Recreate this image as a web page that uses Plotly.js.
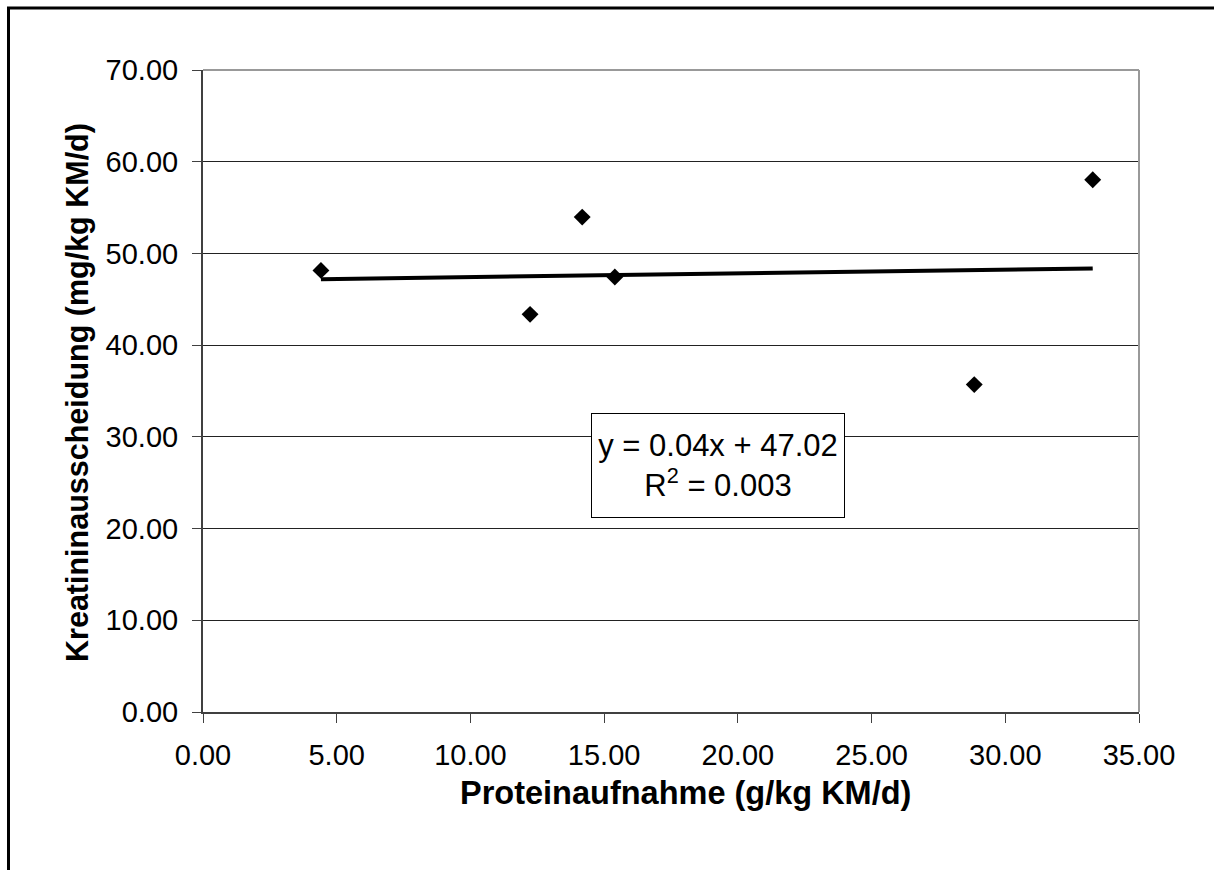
<!DOCTYPE html>
<html>
<head>
<meta charset="utf-8">
<script src="https://cdn.plot.ly/plotly-3.0.1.min.js"></script>
<style>
html,body{margin:0;padding:0;background:#fff;}
#chart{width:1214px;height:870px;}
</style>
</head>
<body>
<div id="chart"></div>
<script>
// Data
const proteinIntake = [4.41, 12.23, 14.18, 15.40, 28.84, 33.27];      // g/kg KM/d
const creatinineExcretion = [48.15, 43.36, 53.96, 47.43, 35.70, 58.03]; // mg/kg KM/d
const trendSlope = 0.04;
const trendIntercept = 47.02;
const rSquared = 0.003;
const xTickVals = [0, 5, 10, 15, 20, 25, 30, 35];
const yTickVals = [0, 10, 20, 30, 40, 50, 60, 70];
const xTitle = 'Proteinaufnahme (g/kg KM/d)';
const yTitle = 'Kreatininausscheidung (mg/kg KM/d)';

const xMin = Math.min(...proteinIntake);
const xMax = Math.max(...proteinIntake);
const trendX = [xMin, xMax];
const trendY = trendX.map(v => trendSlope * v + trendIntercept);

const FONT = 'Liberation Sans, Arial, sans-serif';

const traces = [
  {
    x: trendX, y: trendY, mode: 'lines', type: 'scatter',
    line: {color: '#000000', width: 4},
    hoverinfo: 'skip', showlegend: false
  },
  {
    x: proteinIntake, y: creatinineExcretion, mode: 'markers', type: 'scatter',
    marker: {symbol: 'diamond', size: 13, color: '#000000'},
    showlegend: false
  }
];

const layout = {
  width: 1214, height: 870,
  margin: {l: 203, r: 75, t: 70, b: 158, pad: 0},
  paper_bgcolor: '#ffffff', plot_bgcolor: '#ffffff',
  font: {family: FONT, color: '#000000', size: 29},
  showlegend: false,
  xaxis: {
    range: [0, 35], tickvals: xTickVals,
    ticktext: xTickVals.map(v => v.toFixed(2)),
    ticks: 'outside', ticklen: 9, tickwidth: 1, tickcolor: '#404040',
    showline: true, linecolor: '#404040', linewidth: 2,
    showgrid: false, zeroline: false,
    tickfont: {family: FONT, size: 29, color: '#000'},
    ticklabelstandoff: 7,
    fixedrange: true
  },
  yaxis: {
    range: [0, 70], tickvals: yTickVals,
    ticktext: yTickVals.map(v => v.toFixed(2)),
    ticks: 'outside', ticklen: 9, tickwidth: 1, tickcolor: '#404040',
    showline: true, linecolor: '#404040', linewidth: 2,
    showgrid: true, gridcolor: '#222222', gridwidth: 1, zeroline: false,
    tickfont: {family: FONT, size: 29, color: '#000'},
    ticklabelstandoff: 8,
    fixedrange: true
  },
  shapes: [
    // plot area border top & right (grey)
    {type: 'line', xref: 'paper', yref: 'paper', x0: 0, x1: 1, y0: 1, y1: 1, line: {color: '#999999', width: 2}},
    {type: 'line', xref: 'paper', yref: 'paper', x0: 1, x1: 1, y0: 0, y1: 1, line: {color: '#999999', width: 2}},
    // outer chart border (cut by page edges)
    {type: 'rect', xref: 'paper', yref: 'paper', x0: -0.2078, x1: 1.15, y0: -0.3, y1: 1.0965, line: {color: '#000000', width: 3}}
  ],
  annotations: [
    {
      xref: 'x', yref: 'y', x: 19.26, y: 26.85,
      text: 'y = ' + trendSlope.toFixed(2) + 'x + ' + trendIntercept.toFixed(2) + '<br>R<sup>2</sup> = ' + rSquared.toFixed(3),
      showarrow: false, align: 'center',
      font: {family: FONT, size: 31, color: '#000'},
      bgcolor: '#ffffff', bordercolor: '#000000', borderwidth: 1,
      width: 250, height: 101
    },
    {
      xref: 'paper', yref: 'paper', x: 0.515, y: -0.126,
      xanchor: 'center', yanchor: 'middle',
      text: '<b>' + xTitle + '</b>', showarrow: false,
      font: {family: FONT, size: 32.5, color: '#000'}
    },
    {
      xref: 'paper', yref: 'paper', x: -0.1335, y: 0.497,
      xanchor: 'center', yanchor: 'middle', textangle: -90,
      text: '<b>' + yTitle + '</b>', showarrow: false,
      font: {family: FONT, size: 30.5, color: '#000'}
    }
  ]
};

Plotly.newPlot('chart', traces, layout, {displayModeBar: false, staticPlot: true});
</script>
</body>
</html>
